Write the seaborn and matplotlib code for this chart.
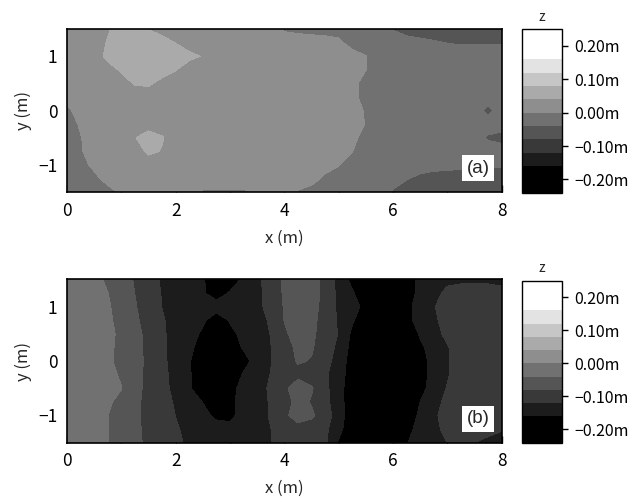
import numpy as np
import matplotlib
matplotlib.use("Agg")
import matplotlib.pyplot as plt
from matplotlib.colors import ListedColormap, BoundaryNorm
import seaborn as sns

# measurement grid (m); rows of the z tables run from y=1.5 down to y=-1.5
x_m = np.linspace(0, 8, 33)
y_m = np.linspace(1.5, -1.5, 13)

# bed level z in cm, panel (a)
z_a_cm = [
    [2, 2, 2.5, 3.6, 5.5, 5.5, 3.9, 2.5, 2, 2, 2, 2, 2, 2, 2, 2, -0.5, -1, -1.5, -2, -2, -2, -2, -3, -4.2, -6, -6, -6, -6, -6, -6, -6, -6],
    [2, 2, 2, 4.3, 6, 6.5, 6.5, 5.5, 3.9, 2, 2, 2, 2, 2, 2, 2, 2, 2, 2, 2, 1, -2, -2, -2, -2, -2, -3, -3.6, -4.1, -4.4, -4.4, -4.4, -4.4],
    [2, 2, 2, 5, 6.5, 6.8, 6.8, 6.5, 6, 5, 3.75, 2, 2, 2, 2, 2, 2, 2, 2, 2, 2, 2, 0.1, -2, -2, -2, -2, -2, -2, -2, -2, -2, -2],
    [2, 2, 2, 2.5, 4.5, 6, 6.3, 5.8, 4.2, 2, 2, 2, 2, 2, 2, 2, 2, 2, 2, 2, 2, 2, 0.1, -2, -2, -2, -2, -2, -2, -2, -2, -2, -2],
    [2, 2, 2, 2, 2.5, 4.3, 4.6, 2.8, 2, 2, 2, 2, 2, 2, 2, 2, 2, 2, 2, 2, 2, 1.5, -2, -2, -2, -2, -2, -2, -2, -2, -2, -2, -2],
    [2, 2, 2, 2, 2, 2, 2, 2, 2, 2, 2, 2, 2, 2, 2, 2, 2, 2, 2, 2, 2, 1.5, -2, -2, -2, -2, -2, -2, -2, -2, -2, -2, -2],
    [-1, 2, 2, 2, 2, 2, 2, 2, 2, 2, 2, 2, 2, 2, 2, 2, 2, 2, 2, 2, 2, 2, -0.5, -2, -2, -2, -2, -2, -2, -2, -2, -5, -2],
    [-2, 0.5, 2, 2, 2, 2, 2, 2, 2, 2, 2, 2, 2, 2, 2, 2, 2, 2, 2, 2, 2, 2, -0.2, -2, -2, -2, -2, -2, -2, -2, -2, -2, -2],
    [-2, -0.2, 2, 2, 2, 3.8, 6, 4.3, 2, 2, 2, 2, 2, 2, 2, 2, 2, 2, 2, 2, 2, 1.5, -2, -2, -2, -2, -2, -2, -2, -2, -2, -4.5, -5.5],
    [-2, -0.4, 2, 2, 2, 2, 4.8, 3.8, 2, 2, 2, 2, 2, 2, 2, 2, 2, 2, 2, 2, 2, 0.1, -2, -2, -2, -2, -2, -2, -2, -2, -2, -2, -2],
    [-2, -2, 1.3, 2, 2, 2, 2, 2, 2, 2, 2, 2, 2, 2, 2, 2, 2, 2, 2, 2, 0.2, -2, -2, -2, -2, -2, -2, -2.2, -2.6, -3, -3.2, -3.4, -3.5],
    [-2, -2, -1.4, 2, 2, 2, 2, 2, 2, 2, 2, 2, 2, 2, 2, 2, 2, 2, 2, -1, -2, -2, -2, -2, -2, -3.7, -5, -6, -6, -6, -6, -6, -6],
    [-2, -2, -2, -2, 0.9, 2, 2, 2, 2, 2, -0.5, -0.5, -0.5, -0.5, 0.3, 2, 2, -0.3, -2, -2, -2, -2, -2, -2.5, -4.5, -6, -6, -6, -6, -6, -6, -6, -6],
]

# bed level z in cm, panel (b)
z_b_cm = [
    [-1, -2, -3, -4.6, -6.4, -8.3, -10.6, -12.4, -13.5, -14.6, -15.7, -17.7, -17.9, -15.4, -13.1, -9.9, -7.4, -6.1, -7, -8.75, -13.6, -17.1, -20, -20, -20, -18.6, -14.9, -13, -13, -13, -13, -13, -13],
    [-1, -2, -3, -3.95, -6, -8.05, -10.2, -12.2, -13.3, -14.4, -15.6, -17.7, -15.7, -14.3, -12.9, -10.5, -7.5, -6.3, -6.9, -8.7, -13.1, -15.5, -19.2, -20, -20, -17.8, -15, -13.4, -11, -10, -10, -10, -11],
    [-1, -1.9, -2.8, -3.6, -5.4, -7.7, -9.9, -12.05, -12.75, -13.5, -14, -14.5, -14, -13.4, -12.6, -11.2, -7.7, -6.4, -6.9, -9, -12.75, -14.6, -17.1, -20, -20, -17.1, -14.4, -12.3, -10, -10, -10, -10, -10],
    [-1, -1.8, -2.7, -3.5, -4.9, -7.3, -9.5, -11.7, -13.1, -14.3, -15.5, -17.7, -15.7, -14.4, -13.1, -11.6, -7.9, -6.5, -7.1, -9.3, -12.6, -15.4, -19.2, -20, -20, -17.1, -14.6, -12.75, -10.5, -10, -10, -10, -10],
    [-1, -1.8, -2.6, -3.4, -4.5, -6.8, -9.1, -11.5, -13.2, -14.8, -16.5, -19, -16.9, -15.1, -13.5, -11.9, -8.6, -6.5, -7.3, -9.5, -12.2, -16.8, -20, -20, -20, -19.2, -15.6, -13.5, -11, -10, -10, -10, -10],
    [-1, -1.8, -2.6, -3.4, -4.7, -6.75, -9, -11.3, -13.35, -15.25, -17.4, -19.8, -17.9, -15.6, -13.8, -12.1, -9.5, -7.25, -7.6, -10, -12.9, -17.3, -20, -20, -20, -20, -16.8, -14.4, -12.3, -10, -10, -10, -10],
    [-1, -1.8, -2.7, -3.5, -4.8, -6.7, -8.8, -11.2, -13.4, -15.6, -19.2, -20, -20, -17.4, -14.5, -12.2, -9.9, -7.6, -8.2, -10.5, -13.7, -17.8, -20, -20, -20, -20, -17.6, -14.7, -12.5, -10, -10, -10, -10],
    [-1, -1.8, -2.5, -3.3, -4.3, -6.7, -9, -11, -13.2, -15.5, -19.2, -20, -19.2, -15.6, -13.7, -11.9, -10.6, -9.3, -10.1, -11.4, -14.1, -18.1, -20, -20, -20, -20, -17.6, -14.7, -12.4, -10, -10, -10, -10],
    [-1, -1.7, -2.5, -3.2, -3.9, -6.75, -9.1, -10.9, -13, -15.5, -19.2, -20, -17.1, -14.9, -13.3, -11.5, -9, -5.5, -7.6, -11, -14.5, -18.4, -20, -20, -20, -20, -17.3, -14.4, -11.8, -10, -10, -10, -10],
    [-1, -1.8, -2.7, -3.5, -4.9, -7.2, -9.05, -10.7, -12.4, -14.2, -16.1, -18.8, -16.8, -14.8, -13.3, -11.7, -9.6, -6.8, -8.3, -10.8, -14.3, -18.6, -20, -20, -20, -20, -16, -13.4, -11, -10, -10, -10, -10],
    [-1, -2, -3, -3.95, -5.65, -7.4, -9, -10.5, -12.05, -13.4, -14.9, -16.8, -16.8, -14.8, -13.3, -11.7, -9.05, -5.8, -7.3, -10.2, -13.9, -18.7, -20, -20, -20, -18.7, -15.2, -12.7, -10.5, -10, -10, -10, -10],
    [-1, -2, -3, -3.95, -5.6, -7.3, -8.8, -10.3, -11.7, -12.7, -13.6, -14.5, -15, -14.2, -13.2, -12.05, -10.9, -9.9, -10.1, -11.2, -14.5, -19.4, -20, -20, -20, -17.1, -14.8, -13, -11, -10.5, -10.5, -11, -11.8],
    [-1, -2, -3, -3.95, -5.5, -7.2, -8.7, -10, -11.4, -12.5, -13.4, -14.3, -15, -14.3, -13.2, -12.1, -11.1, -10.3, -10.4, -11.3, -16.5, -19.5, -20, -20, -20, -16.2, -14.7, -13.4, -12, -11.5, -12, -12.8, -13],
]

levels_m = [-0.24, -0.16, -0.12, -0.08, -0.04, 0.0, 0.04, 0.08, 0.12, 0.16, 0.25]
cbar_ticks = [-0.2, -0.1, 0.0, 0.1, 0.2]
cbar_labels = ["\u22120.20m", "\u22120.10m", "0.00m", "0.10m", "0.20m"]
x_ticks = [0, 2, 4, 6, 8]
x_minor = [1, 3, 5, 7]
y_ticks = [-1, 0, 1]
y_minor = [-0.5, 0.5]
panel_tags = ["(a)", "(b)"]

sns.set_theme(style="ticks")
plt.rcParams["font.family"] = ["Noto Sans CJK JP", "DejaVu Sans"]

grays = ListedColormap([str(v) for v in np.linspace(0, 1, 10)])

fig = plt.figure(figsize=(6.41, 4.99), dpi=100)
X, Y = np.meshgrid(x_m, y_m)

# axes boxes in figure fractions: [left, bottom, width, height]
plot_boxes = [[0.1045, 0.6152, 0.678, 0.3267], [0.1045, 0.1128, 0.678, 0.3274]]
cbar_boxes = [[0.8144, 0.6138, 0.0624, 0.3275], [0.8144, 0.1128, 0.0624, 0.3247]]

for z_cm, tag, pbox, cbox in zip([z_a_cm, z_b_cm], panel_tags, plot_boxes, cbar_boxes):
    ax = fig.add_axes(pbox)
    Z = np.array(z_cm) / 100.0
    norm = BoundaryNorm(levels_m, ncolors=10)   # one norm per panel
    cs = ax.contourf(X, Y, Z, levels=levels_m, cmap=grays, norm=norm)
    ax.set_xlim(0, 8)
    ax.set_ylim(-1.5, 1.5)
    ax.set_xticks(x_ticks)
    ax.set_xticks(x_minor, minor=True)
    ax.set_yticks(y_ticks)
    ax.set_yticks(y_minor, minor=True)
    ax.set_yticklabels(["\u22121", "0", "1"])
    ax.tick_params(which="major", direction="in", length=5, width=1, labelsize=12.5,
                   colors="black", pad=7, top=False, right=False)
    ax.tick_params(which="minor", direction="in", length=3, width=1, colors="black",
                   top=False, right=False)
    for sp in ax.spines.values():
        sp.set_color("black")
        sp.set_linewidth(1.2)
    ax.set_xlabel("x (m)", fontsize=12, labelpad=7)
    ax.set_ylabel("y (m)", fontsize=12, labelpad=4)
    ax.text(0.946, 0.147, tag, transform=ax.transAxes, ha="center", va="center",
            fontsize=13.5, family=["Liberation Sans", "DejaVu Sans"],
            bbox=dict(boxstyle="square,pad=0.25", facecolor="white", edgecolor="none"),
            zorder=5)

    cax = fig.add_axes(cbox)
    cb = fig.colorbar(cs, cax=cax, spacing="proportional")
    cb.set_ticks(cbar_ticks, labels=cbar_labels)
    cb.ax.minorticks_off()
    cb.ax.tick_params(length=4, width=1, labelsize=11.5, pad=5, colors="black")
    cb.outline.set_linewidth(1)
    cb.outline.set_edgecolor("black")
    cb.ax.set_title("z", fontsize=10, pad=6)

fig.savefig("out.png", dpi=100)
